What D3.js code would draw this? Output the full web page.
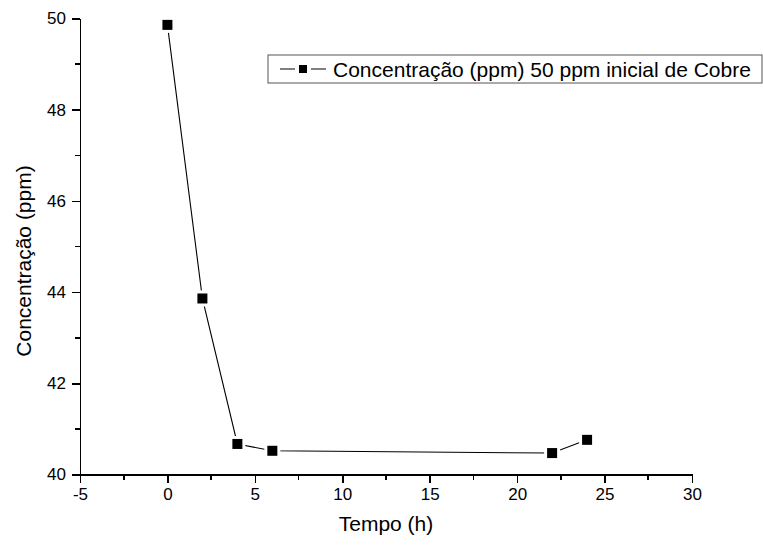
<!DOCTYPE html>
<html lang="pt">
<head>
<meta charset="utf-8">
<title>Concentração de Cobre</title>
<script src="https://d3js.org/d3.v7.min.js"></script>
<style>
  body { margin: 0; background: #fff; }
  svg { font-family: Arial, "Liberation Sans", sans-serif; }
  .axis path, .axis line { stroke: #000; stroke-width: 1.6; shape-rendering: crispEdges; }
  .axis text { font-size: 17px; fill: #000; font-family: Arial, "Liberation Sans", sans-serif; }
  .label { font-size: 21px; fill: #000; }
</style>
</head>
<body>
<div id="chart"></div>
<script>
// data
var tempo = [0, 2, 4, 6, 22, 24];
var concentracao = [49.86, 43.86, 40.67, 40.52, 40.47, 40.76];
var xTicks = [-5, 0, 5, 10, 15, 20, 25, 30];
var yTicks = [40, 42, 44, 46, 48, 50];
var serieNome = "Concentração (ppm) 50 ppm inicial de Cobre";

var W = 763, H = 545;
var margin = {top: 18.5, right: 71, bottom: 70.5, left: 80};

var svg = d3.select("#chart").append("svg")
  .attr("width", W)
  .attr("height", H);

var x = d3.scaleLinear().domain([-5, 30]).range([margin.left, W - margin.right]);
var y = d3.scaleLinear().domain([40, 50]).range([H - margin.bottom, margin.top]);

// minor ticks
var xMinor = d3.range(-2.5, 30, 5);
var yMinor = d3.range(41, 50, 2);

var fmt = d => String(d);   // plain hyphen for negatives, like the original

var gx = svg.append("g")
  .attr("class", "axis")
  .attr("transform", "translate(0," + y(40) + ")")
  .call(d3.axisBottom(x).tickValues(xTicks).tickFormat(fmt).tickSize(8).tickPadding(5).tickSizeOuter(0));
gx.selectAll(".minor").data(xMinor).enter().append("line")
  .attr("class", "minor")
  .attr("x1", d => x(d)).attr("x2", d => x(d))
  .attr("y1", 0).attr("y2", 5);

var gy = svg.append("g")
  .attr("class", "axis")
  .attr("transform", "translate(" + x(-5) + ",0)")
  .call(d3.axisLeft(y).tickValues(yTicks).tickFormat(fmt).tickSize(8).tickPadding(6).tickSizeOuter(0));
gy.selectAll(".minor").data(yMinor).enter().append("line")
  .attr("class", "minor")
  .attr("y1", d => y(d)).attr("y2", d => y(d))
  .attr("x1", 0).attr("x2", -5);

// axis titles
svg.append("text")
  .attr("class", "label")
  .attr("x", (x(-5) + x(30)) / 2)
  .attr("y", 531)
  .attr("text-anchor", "middle")
  .text("Tempo (h)");

svg.append("text")
  .attr("class", "label")
  .attr("transform", "translate(31,261) rotate(-90)")
  .attr("text-anchor", "middle")
  .text("Concentração (ppm)");

// line + markers
var pts = tempo.map((t, i) => [t, concentracao[i]]);
var line = d3.line().x(d => x(d[0])).y(d => y(d[1]));

svg.append("path")
  .datum(pts)
  .attr("d", line)
  .attr("fill", "none")
  .attr("stroke", "#000")
  .attr("stroke-width", 1.1);

var ms = 10, gap = 3;
svg.selectAll(".halo").data(pts).enter().append("rect")
  .attr("x", d => x(d[0]) - ms / 2 - gap)
  .attr("y", d => y(d[1]) - ms / 2 - gap)
  .attr("width", ms + 2 * gap)
  .attr("height", ms + 2 * gap)
  .attr("fill", "#fff");
svg.selectAll(".pt").data(pts).enter().append("rect")
  .attr("x", d => x(d[0]) - ms / 2)
  .attr("y", d => y(d[1]) - ms / 2)
  .attr("width", ms)
  .attr("height", ms)
  .attr("fill", "#000");

// legend
var lg = svg.append("g").attr("transform", "translate(268,55)");
lg.append("rect")
  .attr("width", 494).attr("height", 28)
  .attr("fill", "#fff")
  .attr("stroke", "#555").attr("stroke-width", 1);
lg.append("line").attr("x1", 12).attr("x2", 27).attr("y1", 14).attr("y2", 14).attr("stroke", "#000");
lg.append("line").attr("x1", 43).attr("x2", 58).attr("y1", 14).attr("y2", 14).attr("stroke", "#000");
lg.append("rect").attr("x", 31).attr("y", 10).attr("width", 8).attr("height", 8).attr("fill", "#000");
lg.append("text")
  .attr("x", 65).attr("y", 21.5)
  .attr("font-size", 21)
  .text(serieNome);
</script>
</body>
</html>
